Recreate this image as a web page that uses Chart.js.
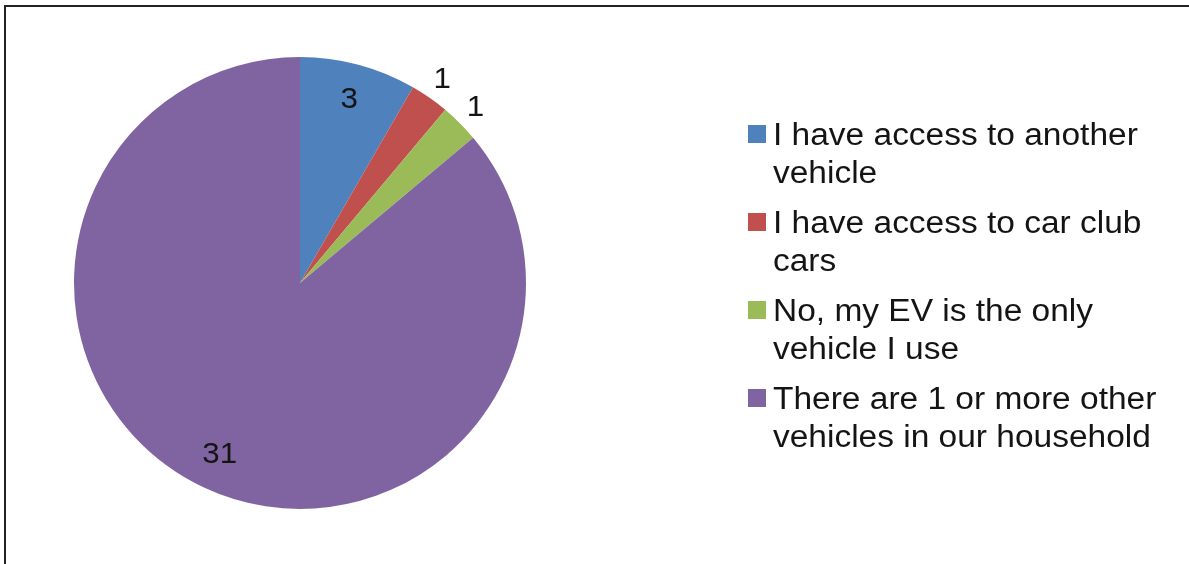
<!DOCTYPE html>
<html>
<head>
<meta charset="utf-8">
<script src="https://cdn.jsdelivr.net/npm/chart.js@4.4.0/dist/chart.umd.min.js"></script>
<style>
  body { margin: 0; background: #fff; }
  #wrap { position: relative; width: 1189px; height: 564px; overflow: hidden; }
  #frame {
    position: absolute; left: 4px; top: 5px; right: -10px; bottom: -10px;
    border-left: 2px solid #222; border-top: 2px solid #222;
  }
  #myPieChart { position: absolute; left: 0; top: 0; }
</style>
</head>
<body>
<div id="wrap">
  <div id="frame"></div>
  <canvas id="myPieChart" width="1189" height="564"></canvas>
</div>
<script>
var labels = [
  ["I have access to another", "vehicle"],
  ["I have access to car club", "cars"],
  ["No, my EV is the only", "vehicle I use"],
  ["There are 1 or more other", "vehicles in our household"]
];
var counts = [3, 1, 1, 31];
var colors = ['#4F81BD', '#C0504D', '#9BBB59', '#8064A2'];
// small slices get their number outside the pie
var outside = [false, true, true, false];

var FONT = '"Liberation Sans", Arial, sans-serif';
var TEXT = '#141414';
var STRETCH = 1.08; // text is a little wider than plain Arial

// value numbers on / beside each slice
var valueLabels = {
  id: 'valueLabels',
  afterDatasetsDraw: function (chart) {
    var ctx = chart.ctx;
    var meta = chart.getDatasetMeta(0);
    ctx.save();
    ctx.font = '29px ' + FONT;
    ctx.fillStyle = TEXT;
    ctx.textAlign = 'center';
    ctx.textBaseline = 'middle';
    meta.data.forEach(function (arc, i) {
      var p = arc.getProps(['x', 'y', 'startAngle', 'endAngle', 'outerRadius'], true);
      var mid = (p.startAngle + p.endAngle) / 2;
      var r = outside[i] ? p.outerRadius + 22 : p.outerRadius * 0.84;
      var lx = p.x + Math.cos(mid) * r, ly = p.y + Math.sin(mid) * r;
      ctx.setTransform(STRETCH, 0, 0, 1, lx, ly);
      ctx.fillText(String(counts[i]), 0, 0);
    });
    ctx.restore();
  }
};

// legend on the right, two lines per entry
var sideLegend = {
  id: 'sideLegend',
  afterDraw: function (chart) {
    var ctx = chart.ctx;
    var x = 748, y = 145, rowGap = 88, lineGap = 38;
    ctx.save();
    ctx.font = '31px ' + FONT;
    ctx.textBaseline = 'alphabetic';
    chart.data.labels.forEach(function (lab, i) {
      var base = y + i * rowGap;
      ctx.setTransform(1, 0, 0, 1, 0, 0);
      ctx.fillStyle = colors[i];
      ctx.fillRect(x, base - 20, 18, 18);
      ctx.fillStyle = TEXT;
      lab.forEach(function (line, j) {
        ctx.setTransform(STRETCH, 0, 0, 1, x + 25, base + j * lineGap);
        ctx.fillText(line, 0, 0);
      });
    });
    ctx.restore();
  }
};

function renderPieChart(chartData) {
  var ctx = document.getElementById("myPieChart");
  var myPieChart = new Chart(ctx, {
    type: 'pie',
    data: {
      labels: labels,
      datasets: [{
        data: chartData,
        backgroundColor: colors,
        borderWidth: 0
      }]
    },
    options: {
      responsive: false,
      animation: false,
      layout: {
        padding: { left: 71, right: 660, top: 57, bottom: 55 }
      },
      plugins: {
        legend: { display: false },
        tooltip: { enabled: false }
      }
    },
    plugins: [valueLabels, sideLegend]
  });
}

renderPieChart(counts);
</script>
</body>
</html>
